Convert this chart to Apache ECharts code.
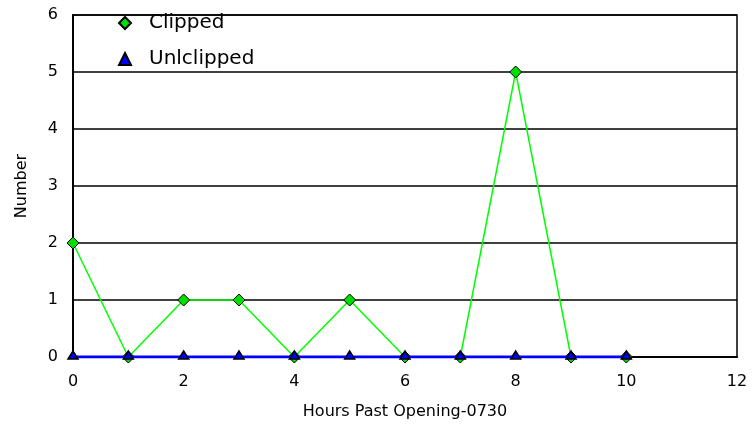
<!DOCTYPE html>
<html><head><meta charset="utf-8">
<script src="https://cdn.jsdelivr.net/npm/echarts@6/dist/echarts.min.js"></script>
<style>html,body{margin:0;padding:0;background:#fff}#c{width:753px;height:430px}</style>
</head><body><div id="c"></div>
<script>
const hours = [0,1,2,3,4,5,6,7,8,9,10];
const clipped = [2,0,1,1,0,1,0,0,5,0,0];
const unclipped = [0,0,0,0,0,0,0,0,0,0,0];
const xTicks = [0,2,4,6,8,10,12];
const yTicks = [0,1,2,3,4,5,6];
const xTitle = 'Hours Past Opening-0730';
const yTitle = 'Number';

const chart = echarts.init(document.getElementById('c'), null, {renderer:'canvas'});
const font = 'DejaVu Sans';
chart.setOption({
  animation:false,
  backgroundColor:'#fff',
  textStyle:{fontFamily:font},
  grid:{left:73,right:16,top:15,bottom:73,show:true,borderColor:'#000',borderWidth:1.5},
  legend:{
    orient:'vertical',left:118,top:13,padding:0,itemGap:16,itemWidth:12,itemHeight:12,
    textStyle:{fontFamily:font,fontSize:20,color:'#000',padding:[0,0,0,13]},
    data:[
      {name:'Clipped',icon:'diamond'},
      {name:'Unlclipped',icon:'triangle'}
    ]
  },
  xAxis:{
    type:'value',min:0,max:12,interval:2,
    axisLine:{show:true,lineStyle:{color:'#000',width:2}},
    axisTick:{show:false},splitLine:{show:false},
    axisLabel:{color:'#000',fontSize:16,fontFamily:font,margin:17,
      formatter:v=>xTicks.includes(v)?String(v):''},
    name:xTitle,nameLocation:'middle',nameGap:47,
    nameTextStyle:{color:'#000',fontSize:16,fontFamily:font}
  },
  yAxis:{
    type:'value',min:0,max:6,interval:1,
    axisLine:{show:true,lineStyle:{color:'#000',width:2}},
    axisTick:{show:false},
    splitLine:{show:true,lineStyle:{color:'#000',width:1.5}},
    axisLabel:{color:'#000',fontSize:16,fontFamily:font,margin:15,
      formatter:v=>yTicks.includes(v)?String(v):''},
    name:yTitle,nameLocation:'middle',nameGap:43,nameRotate:90,
    nameTextStyle:{color:'#000',fontSize:16,fontFamily:font}
  },
  series:[
    {name:'Clipped',type:'line',data:hours.map((h,i)=>[h,clipped[i]]),
     symbol:'diamond',symbolSize:12,showAllSymbol:true,
     lineStyle:{color:'#00ff00',width:1.5},
     itemStyle:{color:'#00dd00',borderColor:'#000',borderWidth:1},z:2},
    {name:'Unlclipped',type:'line',data:hours.map((h,i)=>[h,unclipped[i]]),
     symbol:'triangle',symbolSize:[10,8],symbolOffset:[0,-2],showAllSymbol:true,
     lineStyle:{color:'#0000ff',width:3},
     itemStyle:{color:'#0000ff',borderColor:'#000',borderWidth:1.5},z:3}
  ]
});
</script></body></html>
